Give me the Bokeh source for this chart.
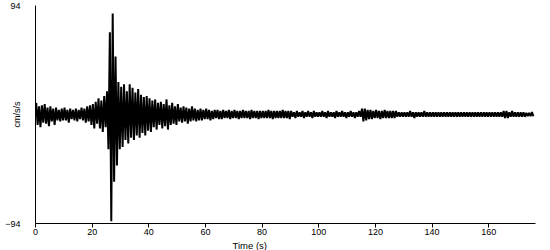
from bokeh.plotting import figure
from bokeh.models import Range1d, Title
from bokeh.embed import file_html
from bokeh.resources import INLINE

# time bins (s), 1-second bins starting at each value
t_start = list(range(176))

# upper envelope of acceleration per bin (cm/s/s)
upper = [
    10, 7, 8, 9, 6, 7, 5, 6, 4, 5,
    6, 4, 5, 4, 5, 4, 6, 5, 7, 8,
    9, 11, 14, 12, 16, 20, 71, 87, 50, 28,
    24, 26, 20, 26, 23, 19, 22, 17, 15, 16,
    14, 12, 13, 10, 11, 9, 13, 8, 10, 7,
    9, 6, 7, 6, 5, 7, 5, 4, 5, 4,
    5, 4, 3, 4, 4, 3, 4, 3, 4, 3,
    4, 3, 3, 4, 3, 3, 4, 3, 3, 3,
    3, 3, 4, 3, 3, 3, 3, 4, 3, 3,
    3, 2, 3, 2, 3, 2, 3, 2, 3, 2,
    2, 3, 2, 3, 2, 2, 3, 2, 3, 2,
    2, 3, 2, 2, 3, 5, 5, 4, 4, 3,
    4, 3, 3, 4, 3, 3, 3, 3, 2, 2,
    2, 2, 3, 2, 2, 2, 2, 3, 2, 2,
    2, 2, 2, 2, 2, 2, 2, 2, 2, 2,
    2, 2, 2, 2, 2, 2, 2, 2, 2, 2,
    2, 2, 2, 2, 2, 3, 3, 2, 3, 2,
    2, 2, 2, 1.5, 1.5, 2,
]

# lower envelope of acceleration per bin (cm/s/s)
lower = [
    -9, -11, -7, -8, -10, -6, -9, -5, -6, -5,
    -5, -7, -4, -5, -6, -4, -5, -7, -6, -9,
    -12, -8, -12, -15, -11, -30, -92, -58, -44, -30,
    -28, -22, -25, -20, -22, -18, -20, -16, -18, -14,
    -15, -11, -13, -9, -12, -10, -13, -9, -8, -9,
    -6, -7, -6, -8, -6, -5, -6, -5, -5, -4,
    -4, -5, -4, -3, -4, -4, -3, -3, -4, -3,
    -3, -4, -3, -3, -3, -4, -3, -3, -4, -3,
    -3, -3, -3, -4, -3, -3, -3, -3, -3, -4,
    -2, -3, -2, -2, -3, -2, -2, -3, -2, -2,
    -2, -2, -3, -2, -2, -3, -2, -2, -2, -3,
    -2, -2, -3, -2, -2, -6, -5, -4, -4, -3,
    -3, -4, -3, -3, -3, -3, -3, -2, -2, -2,
    -2, -2, -2, -3, -2, -2, -2, -2, -2, -2,
    -2, -2, -2, -2, -2, -2, -2, -2, -2, -2,
    -2, -2, -2, -2, -2, -2, -2, -2, -2, -2,
    -2, -2, -2, -2, -2, -3, -3, -2, -2, -2,
    -2, -2, -2, -1.5, -1.5, -1.5,
]

x_ticks = [0, 20, 40, 60, 80, 100, 120, 140, 160]
y_ticks = [-94, 94]
x_title = "Time (s)"
y_title = "cm/s/s"

FONT = "Liberation Sans"

p = figure(width=550, height=250, output_backend="svg", toolbar_location=None,
           x_range=Range1d(0, 176.5), y_range=Range1d(-94, 94),
           min_border_left=35, min_border_right=15, min_border_top=5,
           min_border_bottom=0)

# trace: within each bin, one swing up to the upper value and one down to the lower value
trace_x = []
trace_y = []
for t, hi, lo in zip(t_start, upper, lower):
    trace_x += [t + 0.25, t + 0.75]
    trace_y += [hi, lo]
p.line(trace_x, trace_y, line_color="black", line_width=2.0)

p.xgrid.visible = False
p.ygrid.visible = False
p.outline_line_color = None
p.background_fill_color = "white"
p.border_fill_color = "white"

xa = p.xaxis[0]
xa.ticker = x_ticks
xa.minor_tick_line_color = None
xa.major_tick_out = 4
xa.major_tick_in = 0
xa.major_label_standoff = 1
xa.major_label_text_font = FONT
xa.major_label_text_font_size = "9px"
xa.major_label_text_color = "black"
xa.axis_line_color = "black"
xa.major_tick_line_color = "black"

ya = p.yaxis[0]
ya.ticker = y_ticks
ya.minor_tick_line_color = None
ya.major_tick_line_color = None
ya.major_tick_out = 0
ya.major_tick_in = 0
ya.major_label_standoff = 15
ya.major_label_text_font = FONT
ya.major_label_text_font_size = "9px"
ya.major_label_text_color = "black"
ya.axis_line_color = "black"
ya.axis_label = y_title
ya.axis_label_standoff = -20
ya.axis_label_text_font = FONT
ya.axis_label_text_font_size = "9px"
ya.axis_label_text_font_style = "normal"
ya.axis_label_text_color = "black"

p.add_layout(Title(text=x_title, align="left", offset=197, standoff=0,
                   text_font=FONT, text_font_size="9.5px",
                   text_font_style="normal", text_color="black"), "below")

open("out.html", "w").write(file_html(p, INLINE))
